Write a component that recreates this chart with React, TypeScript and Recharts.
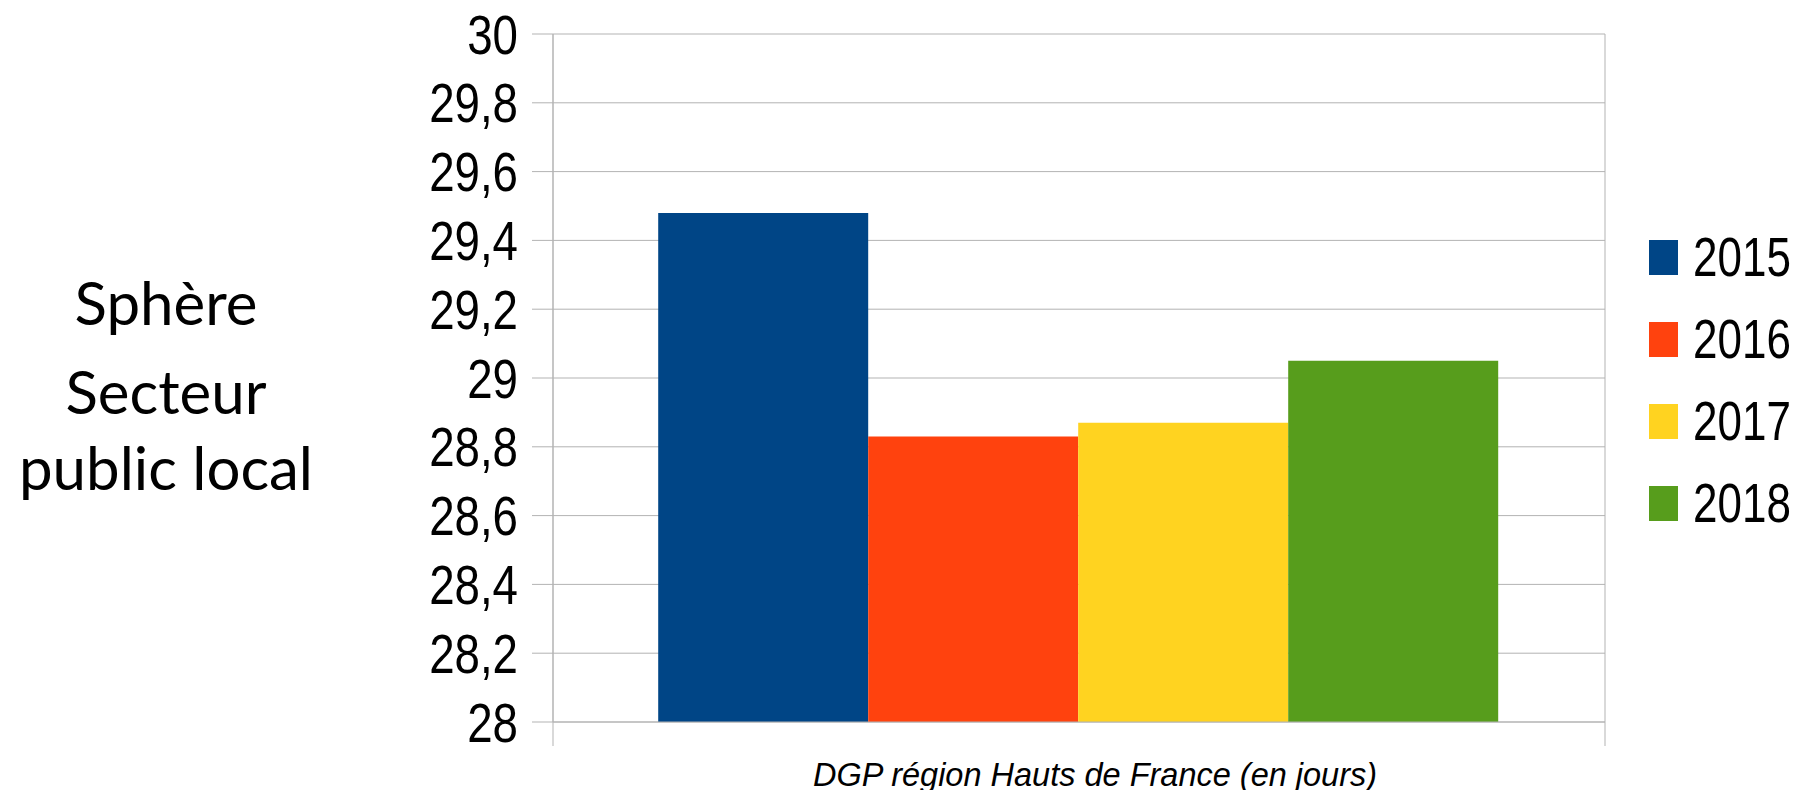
import { Bar, BarChart, CartesianGrid, XAxis, YAxis } from "recharts";

const categories = ["DGP région Hauts de France (en jours)"];
const years = ["2015", "2016", "2017", "2018"];
const colors = ["#004586", "#ff420e", "#ffd320", "#579d1c"];
const values2015 = [29.48];
const values2016 = [28.83];
const values2017 = [28.87];
const values2018 = [29.05];
const yTicks = [28, 28.2, 28.4, 28.6, 28.8, 29, 29.2, 29.4, 29.6, 29.8, 30];
const titleLines = ["Sphère", "Secteur", "public local"];

const seriesValues = [values2015, values2016, values2017, values2018];

const data = categories.map((name, i) => {
    const row: Record<string, string | number> = { name };
    years.forEach((year, s) => {
        row[year] = seriesValues[s][i];
    });
    return row;
});

const GRID = "#b3b3b3";
const SANS = "'Liberation Sans', Arial, sans-serif";
// no narrow face installed: squeeze the regular one
const NARROW_SCALE = 0.8;
const TICK_SCALE = 0.83;

const formatTick = (v: number) => String(Math.round(v * 10) / 10).replace(".", ",");

const ValueTick = (props: any) => {
    const { x, y, payload } = props;
    return (
        <g transform={`translate(${x},${y}) scale(${TICK_SCALE},1)`}>
            <text x={0} y={0} dy="0.355em" textAnchor="end" fontSize={55} fontFamily={SANS} fill="#000">
                {formatTick(payload.value)}
            </text>
        </g>
    );
};

const CategoryTick = (props: any) => {
    const { x, y, payload } = props;
    const half = payload?.offset ?? 0;
    return (
        <g>
            <line x1={x - half} x2={x - half} y1={y} y2={y + 24} stroke={GRID} />
            <line x1={x + half} x2={x + half} y1={y} y2={y + 24} stroke={GRID} />
            <text
                x={x + 16}
                y={y + 64}
                textAnchor="middle"
                fontStyle="italic"
                fontSize={32.5}
                fontFamily={SANS}
                fill="#000"
            >
                {payload.value}
            </text>
        </g>
    );
};

const SideTitle = () => {
    const baselines = [325, 414, 490];
    return (
        <g>
            {titleLines.map((line, i) => (
                <text
                    key={line}
                    x={166}
                    y={baselines[i]}
                    textAnchor="middle"
                    fontSize={60}
                    fontFamily="Lato, sans-serif"
                    fill="#000"
                >
                    {line}
                </text>
            ))}
        </g>
    );
};

const YearLegend = () => (
    <div style={{ position: "absolute", left: 1649, top: 216 }}>
        {years.map((year, i) => (
            <div key={year} style={{ display: "flex", alignItems: "center", height: 82 }}>
                <div style={{ width: 29, height: 35, background: colors[i] }} />
                <span
                    style={{
                        marginLeft: 15,
                        fontFamily: SANS,
                        fontSize: 55,
                        lineHeight: "82px",
                        color: "#000",
                        display: "inline-block",
                        transform: `scaleX(${NARROW_SCALE})`,
                        transformOrigin: "left center",
                    }}
                >
                    {year}
                </span>
            </div>
        ))}
    </div>
);

export default function App() {
    return (
        <div style={{ position: "absolute", left: 0, top: 0, width: 1798, height: 790, background: "#fff", overflow: "hidden" }}>
            <BarChart
                width={1798}
                height={790}
                data={data}
                margin={{ top: 34, right: 193, bottom: 0, left: 0 }}
                barCategoryGap="10%"
                barGap={0}
            >
                <CartesianGrid
                    stroke={GRID}
                    vertical={true}
                    verticalCoordinatesGenerator={({ offset }: any) => [offset.left, offset.left + offset.width]}
                />
                <XAxis
                    dataKey="name"
                    height={68}
                    axisLine={{ stroke: GRID }}
                    tickLine={false}
                    tickSize={0}
                    tickMargin={0}
                    tick={<CategoryTick />}
                    interval={0}
                />
                <YAxis
                    width={553}
                    domain={[28, 30]}
                    ticks={yTicks}
                    interval={0}
                    axisLine={{ stroke: GRID }}
                    tickLine={{ stroke: GRID }}
                    tickSize={21}
                    tickMargin={14}
                    tick={<ValueTick />}
                    label={{ content: () => <SideTitle /> }}
                />
                {years.map((year, i) => (
                    <Bar key={year} dataKey={year} fill={colors[i]} isAnimationActive={false} />
                ))}
            </BarChart>
            <YearLegend />
        </div>
    );
}
